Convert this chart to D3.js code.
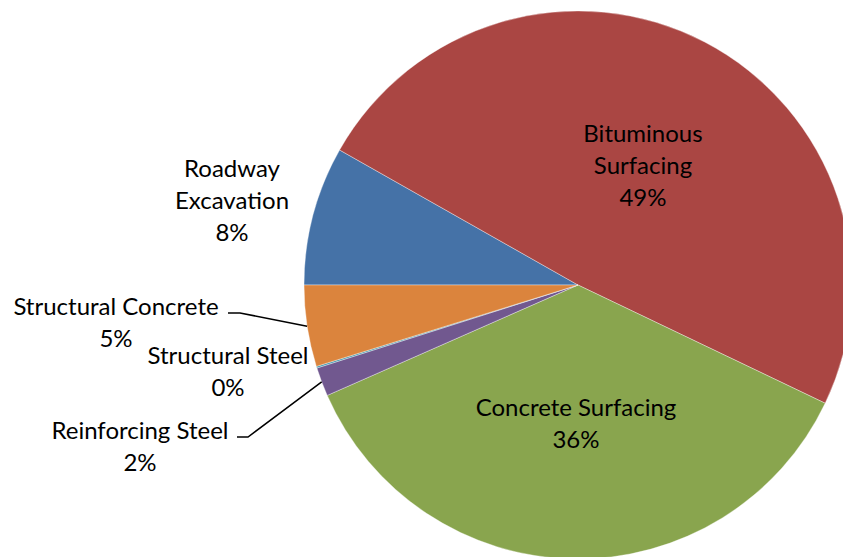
<!DOCTYPE html>
<html>
<head>
<meta charset="utf-8">
<script src="https://cdn.jsdelivr.net/npm/d3@7"></script>
<style>
  body { margin: 0; background: #fff; }
  text { font-family: Lato, "Open Sans", sans-serif; font-size: 24px; fill: #000; }
</style>
</head>
<body>
<svg id="chart" width="843" height="557"></svg>
<script>
(function(){
    "use strict";

    // data, in Excel series order (clockwise from 9 o'clock)
    var categories = ["Roadway Excavation", "Bituminous Surfacing", "Concrete Surfacing",
                      "Reinforcing Steel", "Structural Steel", "Structural Concrete"];
    var shares = [8.2, 48.9, 36.3, 1.7, 0.1, 4.8];
    var pctLabels = ["8%", "49%", "36%", "2%", "0%", "5%"];
    var colors = ["#4572A7", "#AA4643", "#89A54E", "#71588F", "#4198AF", "#DB843D"];

    // label placement (text lines, anchor point, leader line or not)
    var labelLayout = [
        {lines: ["Roadway", "Excavation"], x: 232, y: 177, leader: null},
        {lines: ["Bituminous", "Surfacing"], x: 643, y: 142, leader: null},
        {lines: ["Concrete Surfacing"], x: 576, y: 416, leader: null},
        {lines: ["Reinforcing Steel"], x: 140, y: 439, leader: [[237, 437], [248, 437]]},
        {lines: ["Structural Steel"], x: 228, y: 364, leader: null},
        {lines: ["Structural Concrete"], x: 116, y: 315, leader: [[228, 313], [240, 313]]}
    ];

    var cx = 578, cy = 285, radius = 274, lineH = 32;

    var svg = d3.select("#chart");
    var g = svg.append("g").attr("transform", "translate(" + cx + "," + cy + ")");

    var pie = d3.pie()
        .sort(null)
        .startAngle(-Math.PI / 2)
        .endAngle(3 * Math.PI / 2)
        .value(function(d) { return d; });

    var arc = d3.arc().innerRadius(0).outerRadius(radius);
    var arcs = pie(shares);

    // slices
    g.selectAll(".slice")
        .data(arcs)
        .enter().append("path")
        .attr("class", "slice")
        .attr("d", arc)
        .attr("fill", function(d, i) { return colors[i]; })
        .attr("stroke", "#fff")
        .attr("stroke-opacity", 0.6)
        .attr("stroke-width", 0.6);

    // leader lines go from the label to the slice edge
    arcs.forEach(function(d, i) {
        var lay = labelLayout[i];
        if (!lay.leader) return;
        var a = (d.startAngle + d.endAngle) / 2;
        var end = [cx + radius * Math.sin(a), cy - radius * Math.cos(a)];
        var pts = lay.leader.concat([end]);
        svg.append("path")
            .attr("d", d3.line()(pts))
            .attr("fill", "none")
            .attr("stroke", "#000")
            .attr("stroke-width", 1.5);
    });

    // labels
    labelLayout.forEach(function(lay, i) {
        var t = svg.append("text")
            .attr("text-anchor", "middle")
            .attr("x", lay.x)
            .attr("y", lay.y);
        var lines = lay.lines.concat([pctLabels[i]]);
        lines.forEach(function(s, k) {
            t.append("tspan")
                .attr("x", lay.x)
                .attr("dy", k === 0 ? 0 : lineH)
                .text(s);
        });
    });

})();
</script>
</body>
</html>
